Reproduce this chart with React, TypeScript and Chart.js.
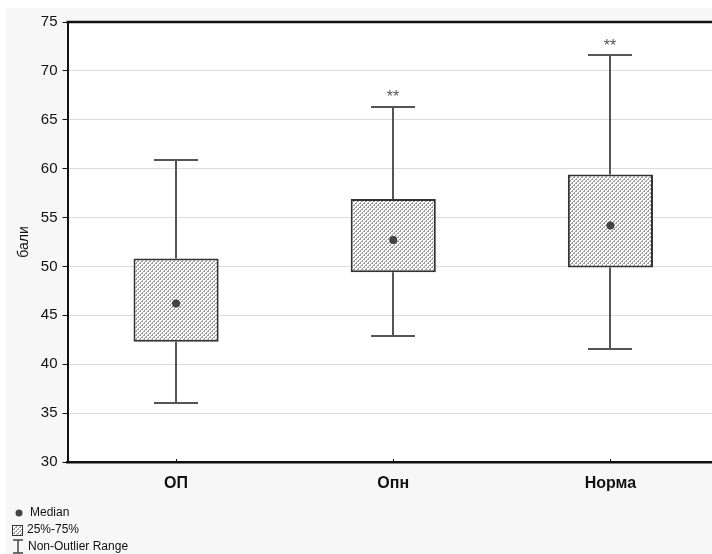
import React, { useEffect, useRef } from "react";
import { Chart, registerables } from "chart.js";
Chart.register(...registerables);

const categories = ["ОП", "Опн", "Норма"];
const whiskerLow = [36.0, 42.9, 41.6];
const q1 = [42.3, 49.4, 49.9];
const median = [46.2, 52.7, 54.2];
const q3 = [50.8, 56.9, 59.4];
const whiskerHigh = [60.9, 66.3, 71.6];
const significance = ["", "**", "**"];
const yMin = 30;
const yMax = 75;
const yStep = 5;
const yTitle = "бали";
const legendItems = ["Median", "25%-75%", "Non-Outlier Range"];

const FONT = "'Liberation Sans', Arial, sans-serif";
const W = 713;
const H = 560;

function makePattern(): CanvasPattern | string {
  const c = document.createElement("canvas");
  c.width = 4;
  c.height = 4;
  const g = c.getContext("2d");
  if (!g) return "#cccccc";
  g.fillStyle = "#ffffff";
  g.fillRect(0, 0, 4, 4);
  g.fillStyle = "#9a9a9a";
  for (let x = 0; x < 4; x++) {
    for (let y = 0; y < 4; y++) {
      if ((x + y) % 4 === 0) g.fillRect(x, y, 1, 1);
      if ((x + y) % 4 === 1 && x % 2 === 0) g.fillRect(x, y, 1, 1);
    }
  }
  const p = g.createPattern(c, "repeat");
  return p || "#cccccc";
}

export default function App() {
  const ref = useRef<HTMLCanvasElement>(null);

  useEffect(() => {
    if (!ref.current) return;
    const pattern = makePattern();

    const bgPlugin = {
      id: "bg",
      beforeDraw(chart: any) {
        const { ctx, chartArea } = chart;
        ctx.save();
        ctx.fillStyle = "#f7f7f7";
        ctx.fillRect(0, 0, chart.width, chart.height);
        ctx.fillStyle = "#ffffff";
        ctx.fillRect(chartArea.left, chartArea.top, chartArea.right - chartArea.left, chartArea.bottom - chartArea.top);
        ctx.restore();
      },
    };

    const boxPlugin = {
      id: "whiskers",
      beforeDatasetsDraw(chart: any) {
        const { ctx } = chart;
        const x = chart.scales.x;
        const y = chart.scales.y;
        ctx.save();
        ctx.strokeStyle = "#555555";
        ctx.lineWidth = 2;
        categories.forEach((_, i) => {
          const cx = Math.round(x.getPixelForValue(i));
          const capHalf = 22;
          const yHi = y.getPixelForValue(whiskerHigh[i]);
          const yQ3 = y.getPixelForValue(q3[i]);
          const yLo = y.getPixelForValue(whiskerLow[i]);
          const yQ1 = y.getPixelForValue(q1[i]);
          ctx.beginPath();
          ctx.moveTo(cx, yHi);
          ctx.lineTo(cx, yQ3);
          ctx.moveTo(cx, yQ1);
          ctx.lineTo(cx, yLo);
          ctx.moveTo(cx - capHalf, Math.round(yHi));
          ctx.lineTo(cx + capHalf, Math.round(yHi));
          ctx.moveTo(cx - capHalf, Math.round(yLo));
          ctx.lineTo(cx + capHalf, Math.round(yLo));
          ctx.stroke();
          if (significance[i]) {
            ctx.fillStyle = "#555555";
            ctx.font = `16px ${FONT}`;
            ctx.textAlign = "center";
            ctx.textBaseline = "middle";
            ctx.fillText(significance[i], cx, yHi - 9);
          }
        });
        ctx.restore();
      },
      afterDatasetsDraw(chart: any) {
        const { ctx } = chart;
        const x = chart.scales.x;
        const y = chart.scales.y;
        ctx.save();
        ctx.fillStyle = "#444444";
        categories.forEach((_, i) => {
          ctx.beginPath();
          ctx.arc(x.getPixelForValue(i), y.getPixelForValue(median[i]), 4, 0, Math.PI * 2);
          ctx.fill();
        });
        ctx.restore();
      },
      afterDraw(chart: any) {
        const { ctx, chartArea } = chart;
        const x = chart.scales.x;
        ctx.save();
        ctx.strokeStyle = "#111111";
        ctx.lineWidth = 2.5;
        ctx.beginPath();
        ctx.moveTo(chartArea.left - 1, chartArea.top);
        ctx.lineTo(chartArea.right, chartArea.top);
        ctx.stroke();
        ctx.lineWidth = 1;
        ctx.beginPath();
        categories.forEach((_, i) => {
          const cx = Math.round(x.getPixelForValue(i)) + 0.5;
          ctx.moveTo(cx, chartArea.bottom);
          ctx.lineTo(cx, chartArea.bottom - 3);
        });
        ctx.stroke();

        ctx.font = `12px ${FONT}`;
        ctx.textAlign = "left";
        ctx.textBaseline = "middle";
        ctx.fillStyle = "#444444";
        ctx.beginPath();
        ctx.arc(13, 505, 3.5, 0, Math.PI * 2);
        ctx.fill();
        ctx.fillStyle = "#111111";
        ctx.fillText(legendItems[0], 24, 505);
        ctx.fillStyle = pattern as any;
        ctx.fillRect(6, 517, 10, 10);
        ctx.strokeStyle = "#333333";
        ctx.lineWidth = 1;
        ctx.strokeRect(6.5, 517.5, 10, 10);
        ctx.fillStyle = "#111111";
        ctx.fillText(legendItems[1], 21, 522);
        ctx.strokeStyle = "#444444";
        ctx.lineWidth = 1.5;
        ctx.beginPath();
        ctx.moveTo(7, 532);
        ctx.lineTo(17, 532);
        ctx.moveTo(12, 532);
        ctx.lineTo(12, 545);
        ctx.moveTo(7, 545);
        ctx.lineTo(17, 545);
        ctx.stroke();
        ctx.fillText(legendItems[2], 22, 539);
        ctx.restore();
      },
    };

    const chart = new Chart(ref.current, {
      type: "bar",
      data: {
        labels: categories,
        datasets: [
          {
            type: "bar",
            label: "25%-75%",
            data: categories.map((_, i) => [q1[i], q3[i]]),
            backgroundColor: pattern as any,
            borderColor: "#333333",
            borderWidth: 2,
            borderSkipped: false,
            barPercentage: 0.392,
            categoryPercentage: 1,
          } as any,
        ],
      },
      options: {
        responsive: false,
        animation: false,
        events: [],
        layout: { padding: { top: 14, left: 0, right: 0, bottom: 0 } },
        plugins: {
          legend: { display: false },
          tooltip: { enabled: false },
          title: { display: false },
        },
        scales: {
          x: {
            type: "category",
            offset: true,
            afterFit(scale: any) {
              scale.height = H - 14 - 440;
            },
            grid: { display: true, drawOnChartArea: false, drawTicks: false },
            border: { display: true, color: "#111111", width: 2.5 },
            ticks: {
              color: "#111111",
              padding: 12,
              font: { family: FONT, size: 16, weight: "bold" },
            },
          },
          y: {
            min: yMin,
            max: yMax,
            afterFit(scale: any) {
              scale.width = 61.5;
            },
            grid: {
              color: "#dcdcdc",
              lineWidth: 1,
              drawTicks: true,
              tickLength: 5,
              tickColor: "#111111",
            },
            border: { display: true, color: "#111111", width: 2 },
            ticks: {
              stepSize: yStep,
              color: "#111111",
              padding: 5,
              font: { family: FONT, size: 15 },
            },
            title: {
              display: true,
              text: yTitle,
              color: "#111111",
              padding: { top: 10, bottom: 0 },
              font: { family: FONT, size: 14 },
            },
          },
        },
      },
      plugins: [bgPlugin, boxPlugin],
    });
    return () => chart.destroy();
  }, []);

  return (
    <div
      style={{
        position: "fixed",
        left: 6,
        top: 8,
        right: 0,
        bottom: 0,
        overflow: "hidden",
        background: "#f7f7f7",
      }}
    >
      <canvas ref={ref} width={W} height={H} style={{ display: "block", width: W, height: H }} />
    </div>
  );
}
